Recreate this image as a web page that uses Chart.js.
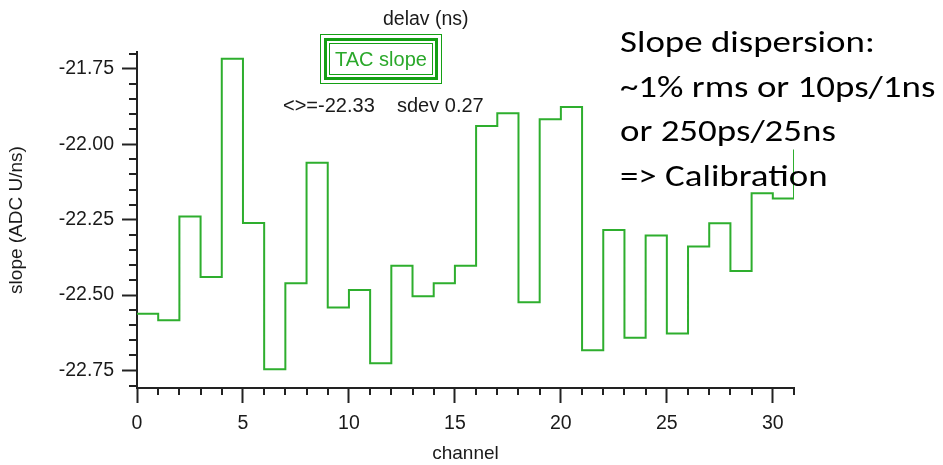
<!DOCTYPE html>
<html>
<head>
<meta charset="utf-8">
<script src="https://cdn.jsdelivr.net/npm/chart.js@4/dist/chart.umd.min.js"></script>
<style>
  html, body { margin: 0; padding: 0; background: #fff; }
  #wrap { position: relative; width: 943px; height: 465px; overflow: hidden; }
  #chart { position: absolute; left: 0; top: 0; }
  .txt { position: absolute; font-family: "Liberation Sans", Arial, sans-serif; font-size: 19.5px; line-height: 19.5px; color: #1a1a1a; white-space: pre; }
  #tacbox { position: absolute; left: 320px; top: 34px; width: 122px; height: 50px; box-sizing: border-box; border: 1px solid #14a014; padding: 3px; }
  #tacbox .mid { box-sizing: border-box; width: 100%; height: 100%; border: 3px solid #14a014; padding: 2px; }
  #tacbox .in { box-sizing: border-box; width: 100%; height: 100%; border: 1px solid #14a014; display: flex; align-items: center; justify-content: center; font-family: "Liberation Sans", Arial, sans-serif; font-size: 20px; color: #2aa82a; }
  #note { position: absolute; left: 620px; top: 19px; font-family: Carlito, Calibri, "Open Sans", sans-serif; font-size: 31px; line-height: 44.5px; color: #000; white-space: pre; transform: scaleX(1.19); transform-origin: 0 0; }
</style>
</head>
<body>
<div id="wrap">
  <canvas id="chart" width="943" height="465"></canvas>
  <div class="txt" style="left:383px; top:9px;">delav (ns)</div>
  <div id="tacbox"><div class="mid"><div class="in">TAC slope</div></div></div>
  <div class="txt" style="left:283px; top:95px; font-size:20px; line-height:20px;">&lt;&gt;=-22.33    sdev 0.27</div>
  <div id="note">Slope dispersion:
~1% rms or 10ps/1ns
or 250ps/25ns
=&gt; Calibration</div>
</div>
<script>
// channel number (bin low edge) and the fitted TAC slope of each channel
const channels = [0, 1, 2, 3, 4, 5, 6, 7, 8, 9, 10, 11, 12, 13, 14, 15,
  16, 17, 18, 19, 20, 21, 22, 23, 24, 25, 26, 27, 28, 29, 30, 31];
const slopes = [-22.562, -22.583, -22.239, -22.440, -21.716, -22.261, -22.746, -22.461,
  -22.061, -22.541, -22.483, -22.726, -22.403, -22.504, -22.461, -22.403,
  -21.939, -21.897, -22.524, -21.917, -21.876, -22.683, -22.284, -22.641,
  -22.302, -22.627, -22.339, -22.262, -22.420, -22.162, -22.180, -22.017];

const xTicks = [0, 5, 10, 15, 20, 25, 30];
const yTicks = [-22.75, -22.50, -22.25, -22.00, -21.75];

const axisColor = '#222';
const tickFont = { family: '"Liberation Sans", Arial, sans-serif', size: 19.5 };

// short minor tick marks between the labelled ones
const minorTicks = {
  id: 'minorTicks',
  afterDraw(chart) {
    const ctx = chart.ctx;
    const xs = chart.scales.x, ys = chart.scales.y;
    const area = chart.chartArea;
    ctx.save();
    ctx.strokeStyle = axisColor;
    ctx.lineWidth = 2;
    ctx.beginPath();
    for (let v = 0; v <= 31; v++) {
      if (v % 5 === 0) continue;
      const px = Math.round(xs.getPixelForValue(v));
      ctx.moveTo(px, area.bottom);
      ctx.lineTo(px, area.bottom + 7);
    }
    for (let k = -2280; k <= -2170; k += 5) {
      if (k % 25 === 0) continue;
      const py = Math.round(ys.getPixelForValue(k / 100));
      ctx.moveTo(area.left - 8, py);
      ctx.lineTo(area.left, py);
    }
    ctx.stroke();
    ctx.restore();
  }
};

const points = channels.map((c, i) => ({ x: c, y: slopes[i] }));

new Chart(document.getElementById('chart'), {
  type: 'line',
  data: {
    datasets: [{
      label: 'TAC slope',
      data: points,
      stepped: true,
      borderColor: '#2eae2e',
      borderWidth: 2,
      pointRadius: 0,
      fill: false
    }]
  },
  options: {
    responsive: false,
    animation: false,
    layout: { padding: { top: 52, right: 149, left: 0, bottom: 0 } },
    plugins: { legend: { display: false }, tooltip: { enabled: false } },
    scales: {
      x: {
        type: 'linear',
        min: 0,
        max: 31,
        afterFit: s => { s.height = 77; },
        afterBuildTicks: s => { s.ticks = xTicks.map(v => ({ value: v })); },
        grid: { drawOnChartArea: false, tickLength: 15, tickWidth: 2, tickColor: axisColor },
        border: { display: true, color: axisColor, width: 2 },
        ticks: { font: tickFont, color: '#1a1a1a', padding: 9, maxRotation: 0 },
        title: { display: true, text: 'channel', font: { family: '"Liberation Sans", Arial, sans-serif', size: 19 }, color: '#1a1a1a', padding: { top: 0, bottom: 0 } }
      },
      y: {
        min: -22.808,
        max: -21.694,
        afterFit: s => { s.width = 137; },
        afterBuildTicks: s => { s.ticks = yTicks.map(v => ({ value: v })); },
        grid: { drawOnChartArea: false, tickLength: 15, tickWidth: 2, tickColor: axisColor },
        border: { display: true, color: axisColor, width: 2 },
        ticks: { font: tickFont, color: '#1a1a1a', padding: 8, callback: v => v.toFixed(2) },
        title: { display: true, text: 'slope (ADC U/ns)', font: { family: '"Liberation Sans", Arial, sans-serif', size: 19 }, color: '#1a1a1a', padding: { top: 5, bottom: 0 } }
      }
    }
  },
  plugins: [minorTicks]
});
</script>
</body>
</html>
